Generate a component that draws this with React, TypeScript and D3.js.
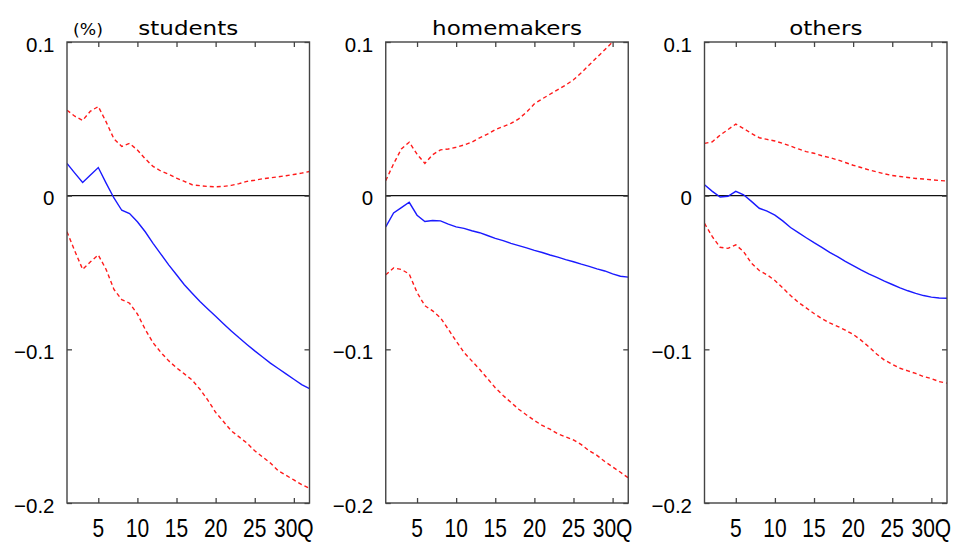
import React, { useRef, useEffect } from 'react';
import * as d3 from 'd3';

const quarters = [1, 2, 3, 4, 5, 6, 7, 8, 9, 10, 11, 12, 13, 14, 15, 16, 17, 18, 19, 20, 21, 22, 23, 24, 25, 26, 27, 28, 29, 30, 31, 32];
const xTicks = [5, 10, 15, 20, 25, 30];
const yTicks = [0.1, 0, -0.1, -0.2];
const titles = ['students', 'homemakers', 'others'];

const studentsMid = [0.021, 0.0147, 0.0086, 0.0134, 0.0183, 0.0082, -0.0015, -0.0095, -0.0116, -0.017, -0.0235, -0.031, -0.038, -0.045, -0.0515, -0.058, -0.0635, -0.0688, -0.0737, -0.0784, -0.0833, -0.088, -0.0925, -0.0968, -0.101, -0.105, -0.109, -0.1125, -0.116, -0.1195, -0.123, -0.1255];
const studentsUp = [0.0556, 0.0517, 0.049, 0.055, 0.058, 0.048, 0.037, 0.032, 0.034, 0.0297, 0.024, 0.019, 0.016, 0.014, 0.0114, 0.0093, 0.0071, 0.0065, 0.006, 0.0058, 0.006, 0.0067, 0.0078, 0.0093, 0.010, 0.011, 0.0116, 0.0123, 0.013, 0.0138, 0.0147, 0.0157];
const studentsLow = [-0.0235, -0.036, -0.048, -0.043, -0.0386, -0.048, -0.061, -0.0677, -0.070, -0.077, -0.087, -0.0957, -0.102, -0.1075, -0.112, -0.116, -0.120, -0.126, -0.133, -0.141, -0.147, -0.153, -0.157, -0.161, -0.166, -0.170, -0.174, -0.179, -0.182, -0.185, -0.188, -0.1905];

const homeMid = [-0.0203, -0.0112, -0.0078, -0.0043, -0.0127, -0.0168, -0.0162, -0.0164, -0.0185, -0.0203, -0.0213, -0.0228, -0.0241, -0.0259, -0.0278, -0.0293, -0.031, -0.0325, -0.034, -0.0356, -0.037, -0.0386, -0.040, -0.0416, -0.043, -0.0446, -0.046, -0.0476, -0.049, -0.0509, -0.0524, -0.053];
const homeUp = [0.0098, 0.0207, 0.0304, 0.0348, 0.027, 0.021, 0.0267, 0.0298, 0.0304, 0.0315, 0.033, 0.0348, 0.0376, 0.040, 0.043, 0.045, 0.047, 0.050, 0.0543, 0.0598, 0.063, 0.066, 0.069, 0.072, 0.0754, 0.080, 0.085, 0.090, 0.095, 0.100, 0.105, 0.110];
const homeLow = [-0.0515, -0.047, -0.048, -0.051, -0.063, -0.0716, -0.075, -0.0795, -0.087, -0.0946, -0.102, -0.1075, -0.113, -0.119, -0.125, -0.130, -0.1345, -0.139, -0.1427, -0.1463, -0.1495, -0.152, -0.155, -0.157, -0.159, -0.162, -0.166, -0.169, -0.173, -0.1765, -0.180, -0.1836];

const othersMid = [0.0071, 0.0028, -0.0009, -0.0004, 0.0028, 0.0006, -0.0037, -0.0082, -0.0101, -0.0127, -0.0164, -0.0207, -0.0241, -0.0274, -0.0306, -0.0336, -0.0369, -0.0397, -0.0427, -0.0455, -0.0483, -0.0509, -0.0532, -0.0556, -0.0578, -0.060, -0.0619, -0.0636, -0.065, -0.066, -0.0666, -0.0668];
const othersUp = [0.034, 0.0351, 0.0394, 0.043, 0.0466, 0.0437, 0.0405, 0.0377, 0.0366, 0.0356, 0.034, 0.0323, 0.0304, 0.0287, 0.0276, 0.026, 0.0248, 0.0233, 0.0216, 0.0198, 0.0183, 0.0168, 0.0155, 0.0142, 0.0131, 0.0125, 0.0118, 0.0112, 0.0108, 0.0103, 0.0099, 0.0095];
const othersLow = [-0.018, -0.0267, -0.0336, -0.0343, -0.032, -0.0364, -0.044, -0.0487, -0.0515, -0.0552, -0.060, -0.065, -0.0694, -0.073, -0.0767, -0.080, -0.0828, -0.085, -0.0875, -0.0903, -0.094, -0.0983, -0.103, -0.107, -0.1097, -0.1123, -0.114, -0.1157, -0.1177, -0.119, -0.121, -0.122];

const W = 957, H = 542;
const left0 = 67, top0 = 42;
const panelW = 242.5, panelH = 461, step = 318.75;

const App = () => {
  const svgRef = useRef<SVGSVGElement>(null);

  useEffect(() => {
    const svg = d3.select(svgRef.current);
    svg.selectAll('*').remove();

    const panels = [
      { title: titles[0], mid: studentsMid, up: studentsUp, low: studentsLow },
      { title: titles[1], mid: homeMid, up: homeUp, low: homeLow },
      { title: titles[2], mid: othersMid, up: othersUp, low: othersLow },
    ];

    const x = d3.scaleLinear().domain([1, 32]).range([0, panelW]);
    const y = d3.scaleLinear().domain([-0.2, 0.1]).range([panelH, 0]);
    const line = d3.line<number>().x((d, j) => x(quarters[j])).y(d => y(d));
    const frame = '#444';
    const txt = '#000';

    panels.forEach((p, i) => {
      const g = svg.append('g').attr('transform', `translate(${left0 + i * step},${top0})`);
      const clipId = `clip-${i}`;
      g.append('clipPath').attr('id', clipId)
        .append('rect').attr('width', panelW).attr('height', panelH);

      // zero line
      g.append('line')
        .attr('x1', 0).attr('x2', panelW)
        .attr('y1', y(0)).attr('y2', y(0))
        .attr('stroke', '#111').attr('stroke-width', 1.4);

      const plot = g.append('g').attr('clip-path', `url(#${clipId})`);
      [p.up, p.low].forEach(band => {
        plot.append('path').datum(band).attr('d', line)
          .attr('fill', 'none').attr('stroke', '#ff1a1a')
          .attr('stroke-width', 1.4).attr('stroke-dasharray', '4,3');
      });
      plot.append('path').datum(p.mid).attr('d', line)
        .attr('fill', 'none').attr('stroke', '#1a1aff').attr('stroke-width', 1.4);

      // axes with inward ticks
      const styleAxis = (a: any) => {
        a.select('.domain').remove();
        a.selectAll('line').attr('stroke', frame).attr('stroke-width', 1.3);
        a.selectAll('text').remove();
      };
      g.append('g').attr('transform', `translate(0,${panelH})`)
        .call(d3.axisBottom(x).tickValues(xTicks).tickSize(-5).tickSizeOuter(0)).call(styleAxis);
      g.append('g')
        .call(d3.axisTop(x).tickValues(xTicks).tickSize(-5).tickSizeOuter(0)).call(styleAxis);
      g.append('g')
        .call(d3.axisLeft(y).tickValues(yTicks).tickSize(-5).tickSizeOuter(0)).call(styleAxis);
      g.append('g').attr('transform', `translate(${panelW},0)`)
        .call(d3.axisRight(y).tickValues(yTicks).tickSize(-5).tickSizeOuter(0)).call(styleAxis);

      g.append('rect')
        .attr('width', panelW).attr('height', panelH)
        .attr('fill', 'none').attr('stroke', frame).attr('stroke-width', 1.4);

      // tick labels
      g.selectAll('.xl').data(xTicks).enter().append('text')
        .attr('transform', d => `translate(${x(d)},${panelH + 33.5}) scale(0.84,1)`)
        .attr('text-anchor', 'middle')
        .attr('font-family', '"Liberation Sans", Arial, sans-serif')
        .attr('font-size', 25).attr('fill', txt)
        .text(d => (d === 30 ? '30Q' : String(d)));

      g.selectAll('.yl').data(yTicks).enter().append('text')
        .attr('x', -12.5).attr('y', d => y(d) + 9.5)
        .attr('text-anchor', 'end')
        .attr('font-family', '"Liberation Sans", Arial, sans-serif')
        .attr('font-size', 20.5).attr('fill', txt)
        .text(d => (d === 0 ? '0' : d3.format('.1f')(d).replace('-', '\u2212')));

      g.append('text')
        .attr('transform', `translate(${panelW / 2},-7) scale(1.15,1)`)
        .attr('text-anchor', 'middle')
        .attr('font-family', '"DejaVu Sans", sans-serif')
        .attr('font-size', 20).attr('fill', txt)
        .text(p.title);

      if (i === 0) {
        g.append('text')
          .attr('transform', `translate(6,-7.5) scale(1.08,1)`)
          .attr('font-family', '"DejaVu Sans", sans-serif')
          .attr('font-size', 16).attr('fill', txt)
          .text('(%)');
      }
    });
  }, []);

  return (
    <svg ref={svgRef} width={W} height={H}
      style={{ position: 'absolute', left: 0, top: 0, background: '#fff' }} />
  );
};

export default App;
